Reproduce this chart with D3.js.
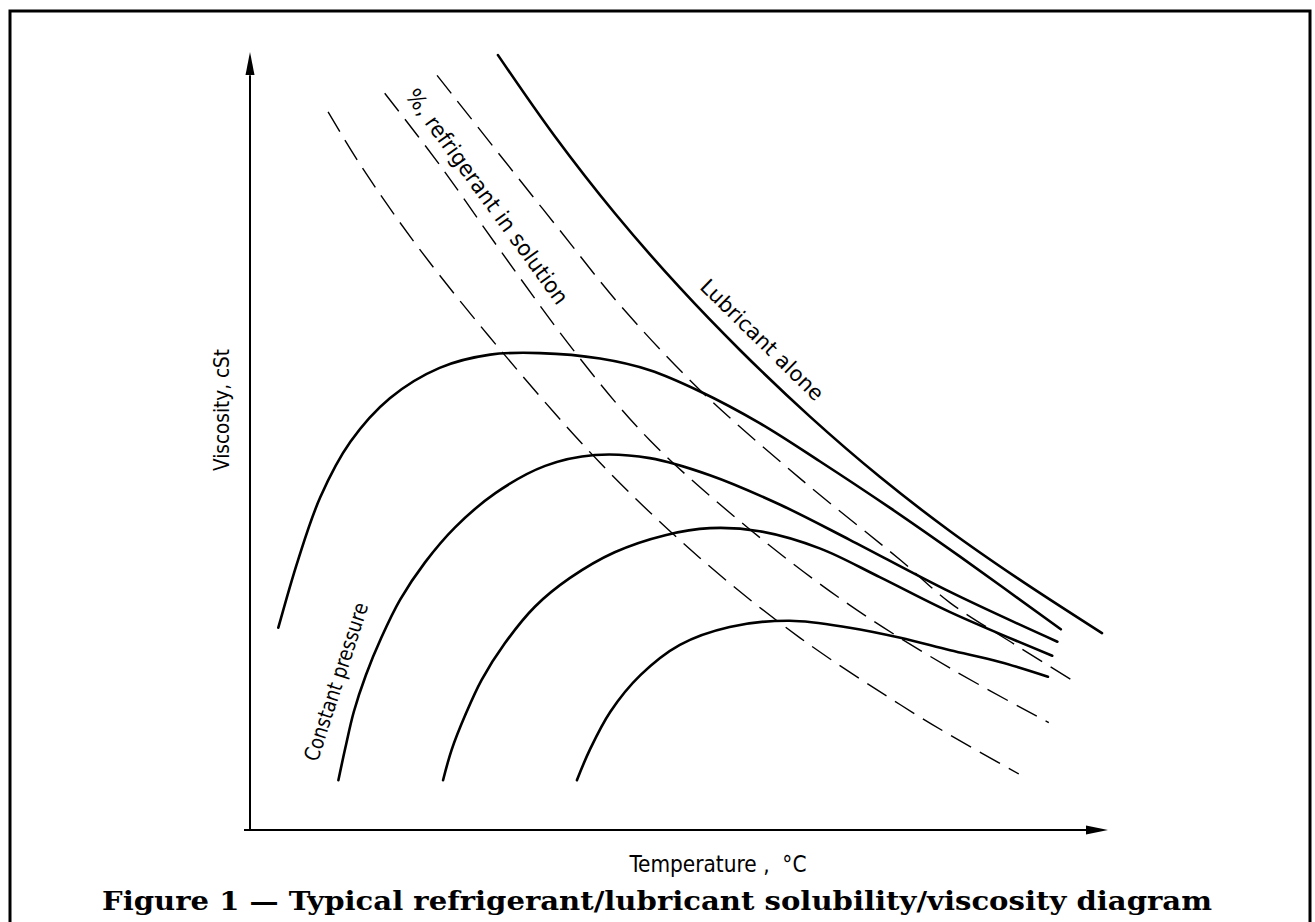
<!DOCTYPE html>
<html>
<head>
<meta charset="utf-8">
<script src="https://cdn.jsdelivr.net/npm/d3@7"></script>
<style>
  html, body { margin: 0; padding: 0; background: #fff; }
  svg { display: block; }
  .iso { font-family: "Liberation Sans Narrow", "DejaVu Sans Condensed", sans-serif; fill: #000; }
  .cap { font-family: "DejaVu Serif", serif; font-weight: bold; fill: #000; }
</style>
</head>
<body>
<svg id="chart" width="1315" height="922"></svg>
<script>
// ---- data (abstract units: temperature 0..100, viscosity 0..100) ----
const lubricantT = [28.9, 35.5, 42.5, 50.1, 57.1, 65.3, 73.4, 81.6, 89.4, 99.3];
const lubricantV = [99.6, 89.2, 79.3, 69.7, 61.7, 53.1, 45.4, 38.4, 32.4, 25.3];

const pressure1T = [3.3, 5.6, 8.2, 11.7, 16.3, 22.1, 28.0, 33.8, 40.8, 46.6, 52.4, 59.4, 66.4, 74.6, 82.8, 94.5];
const pressure1V = [26.0, 34.7, 42.8, 49.9, 55.5, 59.4, 61.1, 61.3, 60.6, 59.1, 56.4, 52.3, 47.4, 41.4, 35.1, 25.8];

const pressure2T = [10.3, 11.1, 12.1, 13.5, 15.3, 17.5, 20.4, 23.9, 28.6, 34.4, 40.2, 46.6, 53.6, 61.8, 69.9, 81.6, 94.1];
const pressure2V = [6.4, 10.5, 15.2, 19.9, 24.7, 29.6, 34.4, 38.9, 43.3, 46.8, 48.2, 47.8, 45.6, 41.8, 37.3, 30.6, 24.2];

const pressure3T = [22.5, 23.5, 25.1, 27.0, 29.7, 33.2, 37.3, 42.5, 48.4, 53.6, 59.4, 66.4, 73.4, 81.6, 93.5];
const pressure3V = [6.4, 10.3, 14.8, 19.3, 24.0, 28.7, 32.4, 35.7, 37.9, 38.8, 38.4, 36.2, 32.5, 28.0, 22.4];

const pressure4T = [38.1, 39.6, 42.0, 45.5, 50.1, 55.9, 62.9, 69.9, 75.8, 81.6, 87.4, 93.0];
const pressure4V = [6.4, 10.3, 15.2, 19.9, 23.8, 26.1, 26.9, 26.0, 24.7, 23.1, 21.6, 19.7];

const solution1T = [9.1, 13.1, 19.8, 29.5, 40.8, 52.4, 64.1, 75.8, 81.6, 89.6];
const solution1V = [92.3, 85.1, 74.6, 61.3, 47.2, 35.0, 24.7, 16.1, 12.2, 7.2];

const solution2T = [15.7, 22.1, 29.1, 38.1, 46.6, 58.3, 69.9, 81.6, 93.1];
const solution2V = [94.7, 85.5, 74.6, 61.1, 50.1, 38.6, 28.9, 20.8, 13.8];

const solution3T = [21.8, 29.1, 36.1, 43.1, 52.4, 64.1, 75.8, 81.6, 89.2, 96.2];
const solution3V = [97.0, 86.8, 77.1, 67.5, 56.6, 45.2, 34.7, 29.2, 23.8, 19.0];

const xAxisLabel = "Temperature ,  °C";
const yAxisLabel = "Viscosity, cSt";
const solutionLabel = "%, refrigerant in solution";
const lubricantLabel = "Lubricant alone";
const pressureLabel = "Constant pressure";
const captionText = "Figure 1 — Typical refrigerant/lubricant solubility/viscosity diagram";

// ---- drawing ----
const svg = d3.select("#chart");
const x = d3.scaleLinear().domain([0, 100]).range([250, 1108]);
const y = d3.scaleLinear().domain([0, 100]).range([830, 52]);

// frame (bottom edge lies outside the picture)
svg.append("path")
  .attr("d", "M10,930 V11 H1310 V930")
  .attr("fill", "none").attr("stroke", "#000").attr("stroke-width", 3);

// axes with arrowheads
const g = svg.append("g");
g.append("line").attr("x1", x(0)).attr("x2", x(0)).attr("y1", y(0)).attr("y2", y(97))
  .attr("stroke", "#000").attr("stroke-width", 2);
g.append("path")
  .attr("d", `M${x(0)},${y(100)} L${x(0) + 4.5},${y(100) + 23} L${x(0) - 4.5},${y(100) + 23} Z`)
  .attr("fill", "#000");
g.append("line").attr("x1", x(0) - 6).attr("x2", x(98)).attr("y1", y(0)).attr("y2", y(0))
  .attr("stroke", "#000").attr("stroke-width", 2);
g.append("path")
  .attr("d", `M${x(100)},${y(0)} L${x(100) - 22},${y(0) - 4.5} L${x(100) - 22},${y(0) + 4.5} Z`)
  .attr("fill", "#000");

const line = d3.line()
  .x(d => x(d[0])).y(d => y(d[1]))
  .curve(d3.curveCatmullRom.alpha(0.5));

const zip = (a, b) => a.map((v, i) => [v, b[i]]);

const solids = [
  zip(lubricantT, lubricantV),
  zip(pressure1T, pressure1V),
  zip(pressure2T, pressure2V),
  zip(pressure3T, pressure3V),
  zip(pressure4T, pressure4V)
];
const dashed = [
  zip(solution1T, solution1V),
  zip(solution2T, solution2V),
  zip(solution3T, solution3V)
];

svg.append("g").selectAll("path").data(dashed).join("path")
  .attr("d", line).attr("fill", "none").attr("stroke", "#000")
  .attr("stroke-width", 1.4).attr("stroke-dasharray", "23,10");

svg.append("g").selectAll("path").data(solids).join("path")
  .attr("d", line).attr("fill", "none").attr("stroke", "#000")
  .attr("stroke-width", 2.6).attr("stroke-linecap", "round").attr("stroke-linejoin", "round");

// labels
svg.append("text").attr("class", "iso")
  .attr("x", 718).attr("y", 872).attr("text-anchor", "middle")
  .attr("font-size", 23).style("white-space", "pre")
  .attr("textLength", 177).attr("lengthAdjust", "spacingAndGlyphs")
  .text(xAxisLabel);

svg.append("text").attr("class", "iso")
  .attr("transform", "translate(229,410) rotate(-90)").attr("text-anchor", "middle")
  .attr("font-size", 21)
  .attr("textLength", 122).attr("lengthAdjust", "spacingAndGlyphs")
  .text(yAxisLabel);

svg.append("text").attr("class", "iso")
  .attr("transform", "translate(481,201) rotate(54)").attr("text-anchor", "middle")
  .attr("font-size", 22)
  .attr("textLength", 260).attr("lengthAdjust", "spacingAndGlyphs")
  .text(solutionLabel);

svg.append("text").attr("class", "iso")
  .attr("transform", "translate(757,345) rotate(44.5)").attr("text-anchor", "middle")
  .attr("font-size", 21)
  .attr("textLength", 163).attr("lengthAdjust", "spacingAndGlyphs")
  .text(lubricantLabel);

svg.append("text").attr("class", "iso")
  .attr("transform", "translate(343,684) rotate(-72)").attr("text-anchor", "middle")
  .attr("font-size", 21)
  .attr("textLength", 165).attr("lengthAdjust", "spacingAndGlyphs")
  .text(pressureLabel);

svg.append("text").attr("class", "cap")
  .attr("x", 657).attr("y", 910).attr("text-anchor", "middle")
  .attr("font-size", 26)
  .attr("textLength", 1110).attr("lengthAdjust", "spacingAndGlyphs")
  .text(captionText);
</script>
</body>
</html>
